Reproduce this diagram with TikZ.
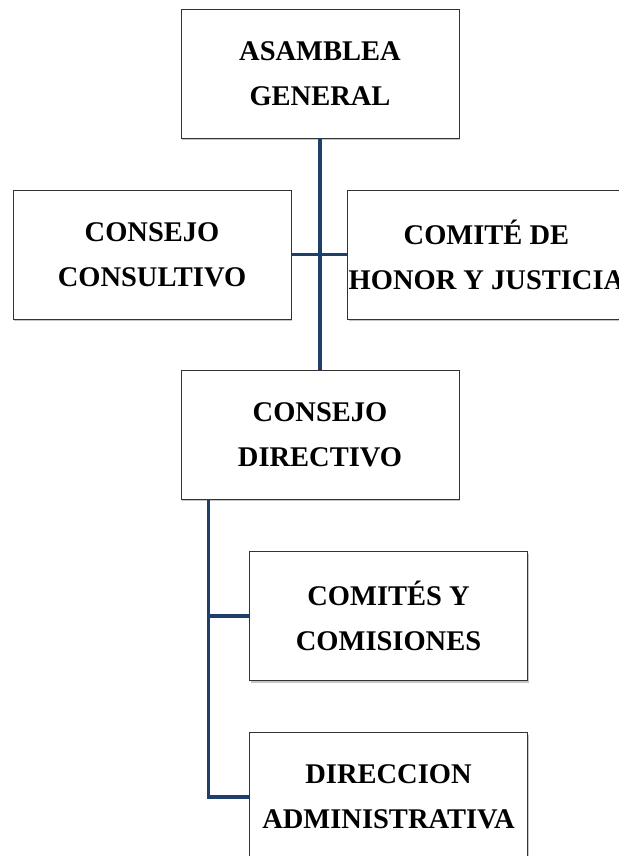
\documentclass[tikz,border=0pt]{standalone}
\usepackage{fontspec}
\setmainfont{Liberation Serif}
\usetikzlibrary{shadows}
\definecolor{linkblue}{RGB}{31,62,108}
\begin{document}
\begin{tikzpicture}[x=1pt,y=-1pt,
    orgbox/.style={draw=black!80, line width=0.9pt, fill=white,
      minimum width=278pt, minimum height=129pt, align=center,
      font=\bfseries\fontsize{28.5}{45}\selectfont,
      drop shadow={opacity=0.45, shadow xshift=1.2pt, shadow yshift=-2pt}},
    link/.style={draw=linkblue, line width=3.4pt}]
  \useasboundingbox (0,0) rectangle (618,856);
  % boxes
  \node[orgbox] (asamblea)   at (320,73.5)  {ASAMBLEA\\GENERAL};
  \node[orgbox] (consultivo) at (152,254.5) {CONSEJO\\CONSULTIVO};
  \node[orgbox, anchor=west, inner sep=1pt] (honor) at (347,254.5) {COMITÉ DE\\HONOR Y JUSTICIA};
  \node[orgbox] (directivo)  at (320,434.5) {CONSEJO\\DIRECTIVO};
  \node[orgbox] (comites)    at (388.5,616) {COMITÉS Y\\COMISIONES};
  \node[orgbox] (direccion)  at (388.5,797) {DIRECCION\\ADMINISTRATIVA};
  % links
  \draw[link] (asamblea.south) -- (directivo.north);
  \draw[link] (consultivo.east) -- (honor.west);
  \coordinate (trunk) at ([xshift=28pt]directivo.south west);
  \draw[link] (trunk) |- (comites.west);
  \draw[link] (trunk) |- (direccion.west);
\end{tikzpicture}
\end{document}
